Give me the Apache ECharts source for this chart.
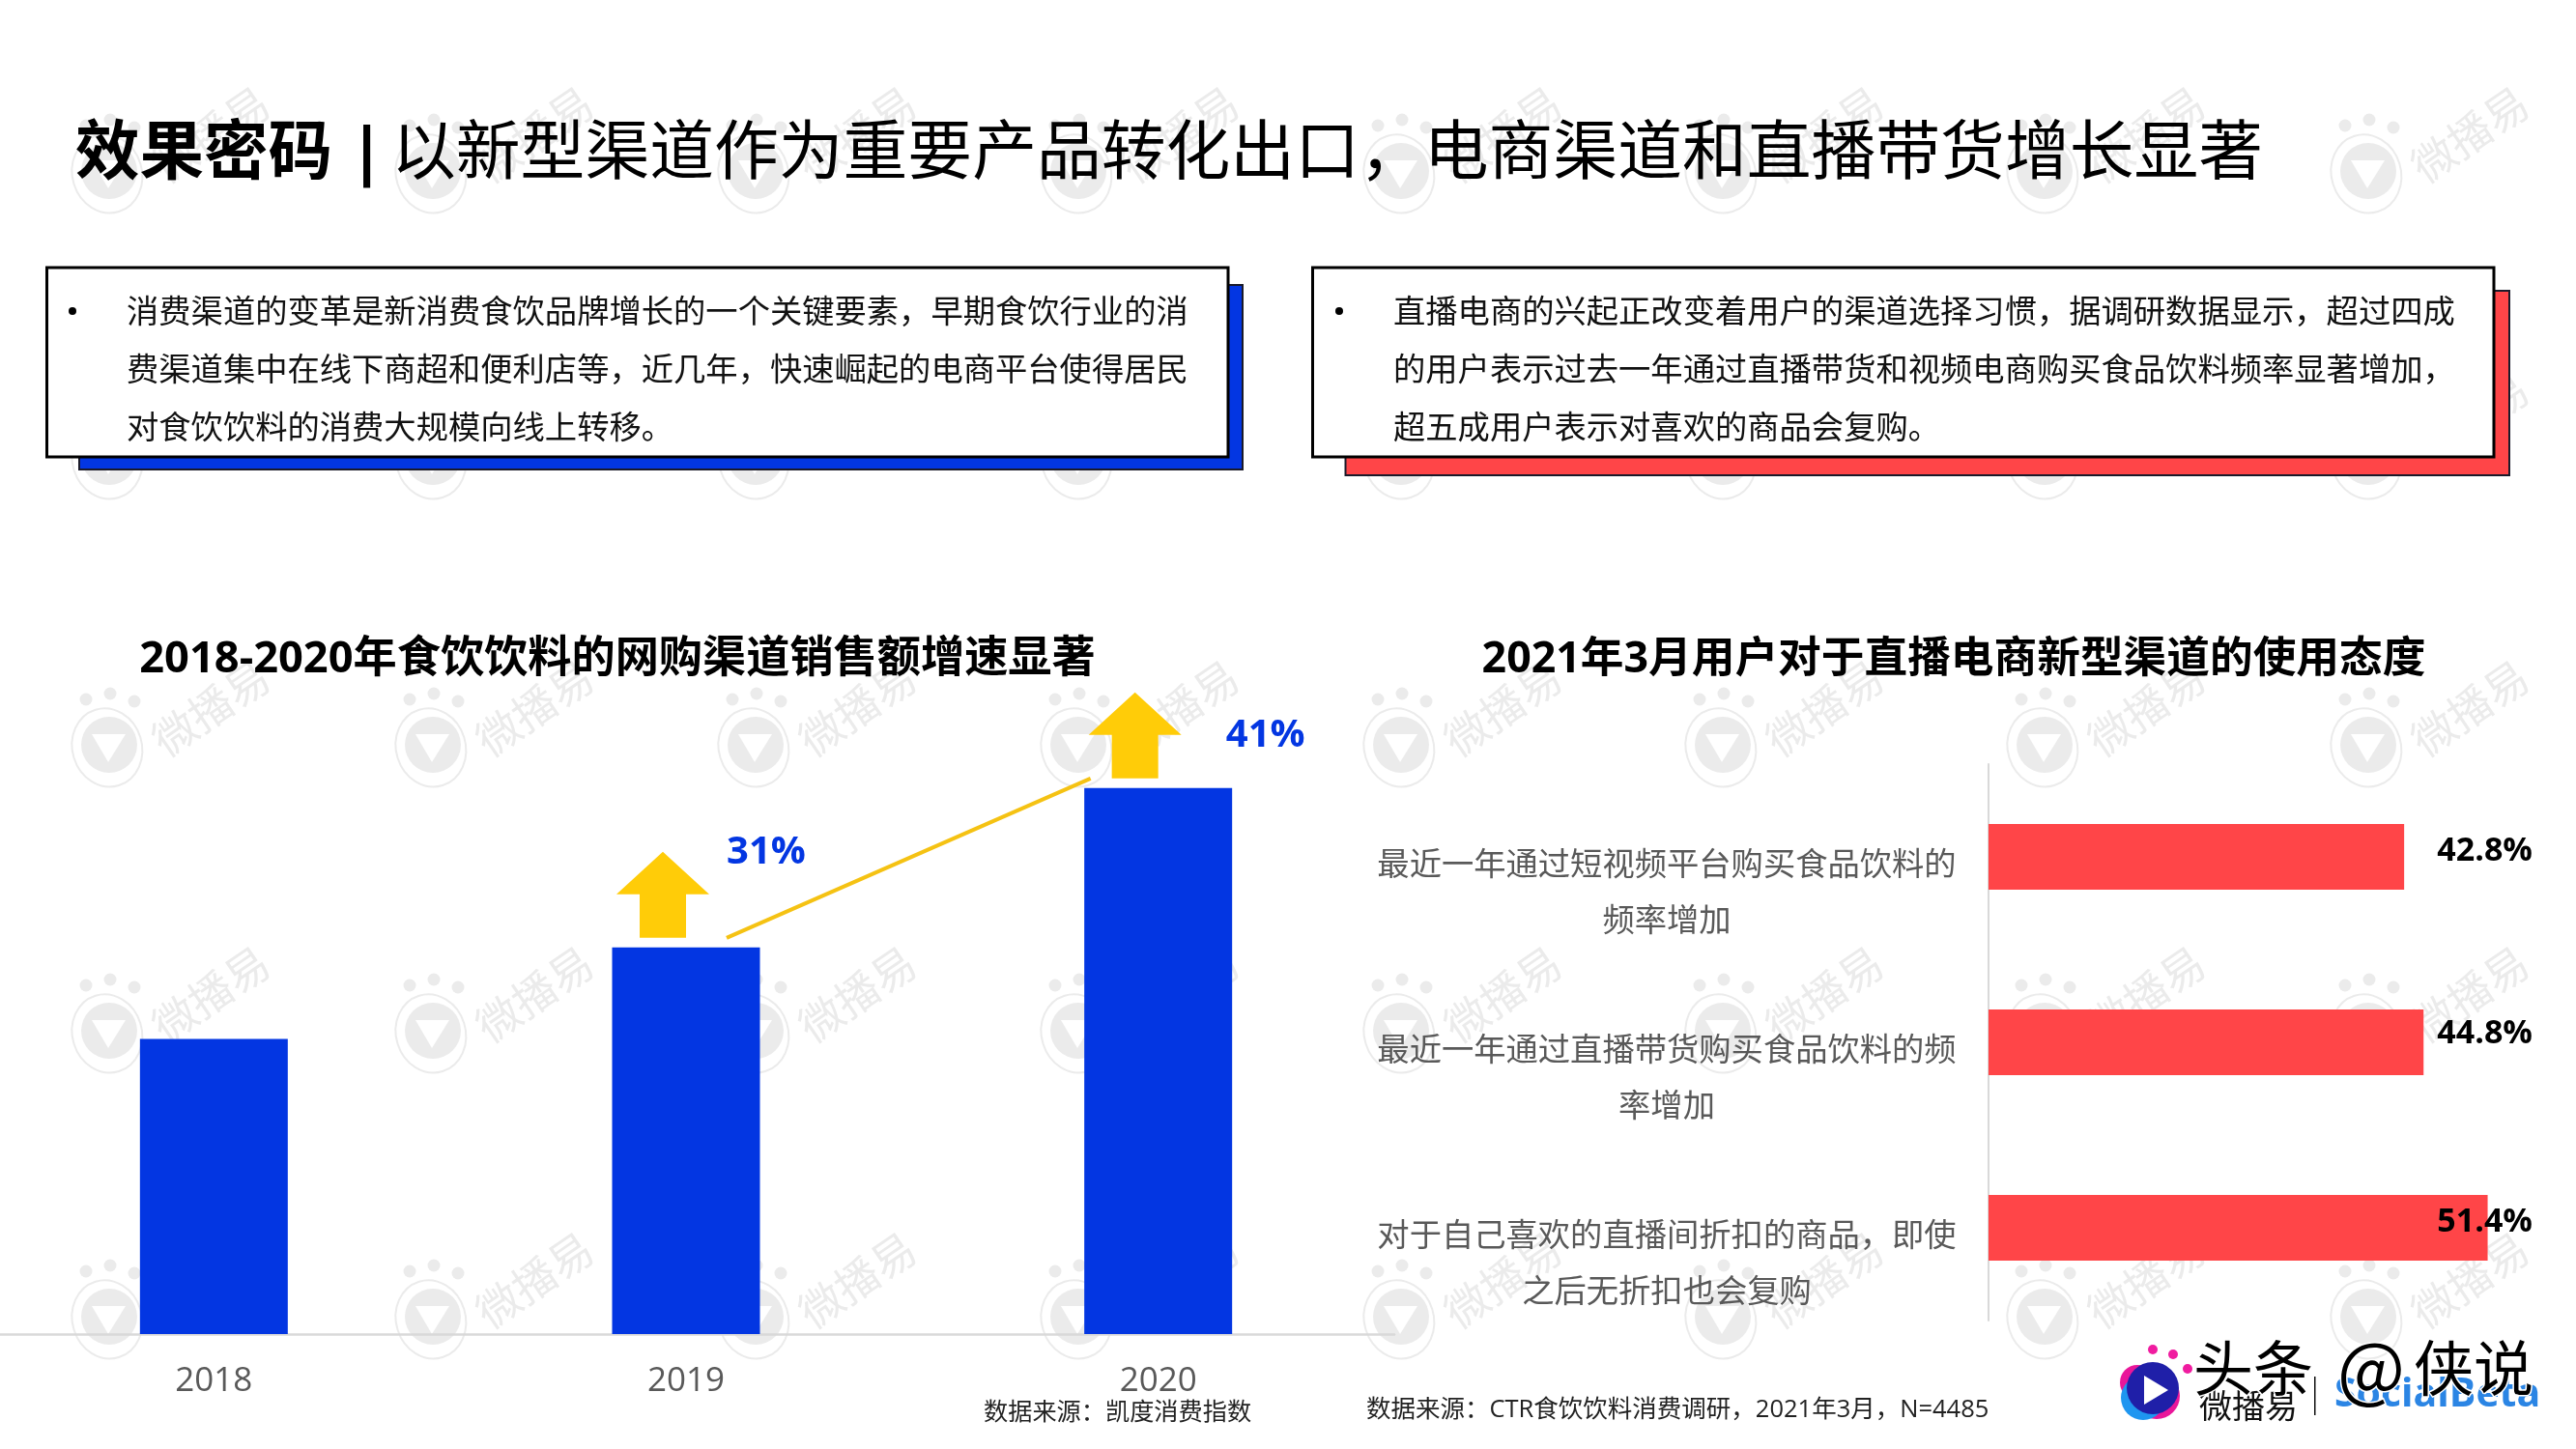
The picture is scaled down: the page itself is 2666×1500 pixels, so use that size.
<!DOCTYPE html>
<html><head><meta charset="utf-8">
<style>html,body{margin:0;padding:0;background:#fff}#c{width:2666px;height:1500px}</style>
<script src="https://cdn.jsdelivr.net/npm/echarts@6/dist/echarts.min.js"></script>
</head><body><div id="c"></div>
<script>
const FONT = '"Open Sans","Noto Sans CJK SC",sans-serif';
const CJK = '"Noto Sans CJK SC",sans-serif';

const headBold = '效果密码 |';
const headRegular = '以新型渠道作为重要产品转化出口，电商渠道和直播带货增长显著';
const leftNote = ['消费渠道的变革是新消费食饮品牌增长的一个关键要素，早期食饮行业的消','费渠道集中在线下商超和便利店等，近几年，快速崛起的电商平台使得居民','对食饮饮料的消费大规模向线上转移。'];
const rightNote = ['直播电商的兴起正改变着用户的渠道选择习惯，据调研数据显示，超过四成','的用户表示过去一年通过直播带货和视频电商购买食品饮料频率显著增加，','超五成用户表示对喜欢的商品会复购。'];

const leftTitle = '2018-2020年食饮饮料的网购渠道销售额增速显著';
const rightTitle = '2021年3月用户对于直播电商新型渠道的使用态度';
const leftSource = '数据来源：凯度消费指数';
const rightSource = '数据来源：CTR食饮饮料消费调研，2021年3月，N=4485';

const years = ['2018','2019','2020'];
const salesIndex = [100,131,185];
const growthYears = [1,2];
const growthLabels = ['31%','41%'];

const attitudes = ['最近一年通过短视频平台购买食品饮料的\n频率增加','最近一年通过直播带货购买食品饮料的频\n率增加','对于自己喜欢的直播间折扣的商品，即使\n之后无折扣也会复购'];
const attitudeValues = [42.8,44.8,51.4];

const BLUE='#0336E2', RED='#FF4548', YEL='#FFCC08';

const wmCols=[110,445,779,1113,1447,1780,2113,2448], wmRows=[177,473,771,1067,1363];
const gfx=[];
function watermark(x,y){
  const c='#ebebeb';
  gfx.push({type:'group',x:x,y:y,z:-10,silent:true,children:[
    {type:'circle',shape:{cx:3,cy:0,r:29},style:{fill:c}},
    {type:'polygon',shape:{points:[[-15,-11],[20,-11],[2,18]]},style:{fill:'#fff'}},
    {type:'ellipse',shape:{cx:0,cy:3,rx:36,ry:41},rotation:0.3,style:{fill:'none',stroke:c,lineWidth:2}},
    {type:'circle',shape:{cx:-21,cy:-47,r:6.5},style:{fill:c}},
    {type:'circle',shape:{cx:4,cy:-53,r:6.5},style:{fill:c}},
    {type:'circle',shape:{cx:29,cy:-45,r:6.5},style:{fill:c}},
    {type:'text',x:108,y:-38,rotation:0.6,style:{text:'微播易',font:'45px '+CJK,fill:c,textAlign:'center',textVerticalAlign:'middle'}}
  ]});
}
wmRows.forEach(y=>wmCols.forEach(x=>watermark(x,y)));

function txt(t,x,y,size,opt){opt=opt||{};
  return {type:'text',x:x,y:y,z:opt.z||6,silent:true,style:Object.assign({text:t,font:(opt.weight||'normal')+' '+size+'px '+FONT,fill:opt.fill||'#000',textAlign:opt.align||'left',textVerticalAlign:'middle'},opt.extra||{})};
}
gfx.push(txt(headBold,78,161,66.5,{weight:'bold'}));
gfx.push(txt(headRegular,405,161,66.8));

function noteBox(x0,y0,x1,y1,sx0,sy0,sx1,sy1,color,lines,bx,tx){
  gfx.push({type:'rect',z:4,silent:true,shape:{x:sx0,y:sy0,width:sx1-sx0,height:sy1-sy0},style:{fill:color,stroke:'#1a1a2a',lineWidth:2}});
  gfx.push({type:'rect',z:5,silent:true,shape:{x:x0,y:y0,width:x1-x0,height:y1-y0},style:{fill:'#fff',stroke:'#000',lineWidth:3}});
  gfx.push({type:'circle',z:6,silent:true,shape:{cx:bx,cy:322,r:4},style:{fill:'#000'}});
  lines.forEach((l,i)=>gfx.push(txt(l,tx,325+60*i,33.3,{fill:'#111'})));
}
noteBox(48.5,277,1271,473,82,295,1286,486,BLUE,leftNote,75,131);
noteBox(1358.5,277,2581,473,1392.5,301,2597,492,RED,rightNote,1386,1442);

gfx.push(txt(leftSource,1018,1463,25.2,{fill:'#222'}));
gfx.push(txt(rightSource,1414,1460,25.5,{fill:'#222'}));

// corner logos
gfx.push({type:'group',z:7,silent:true,children:[
  {type:'circle',shape:{cx:2212,cy:1431,r:18},style:{fill:'#E9169A'}},
  {type:'circle',shape:{cx:2232,cy:1445,r:24},style:{fill:'#E9169A'}},
  {type:'circle',shape:{cx:2218,cy:1447,r:23},style:{fill:'#1E96F0'}},
  {type:'circle',shape:{cx:2228,cy:1437,r:27},style:{fill:'#1F1FA8'}},
  {type:'polygon',shape:{points:[[2219,1424],[2244,1439],[2219,1454]]},style:{fill:'#fff'}},
  {type:'circle',shape:{cx:2228,cy:1397,r:5},style:{fill:'#F01CA0'}},
  {type:'circle',shape:{cx:2249,cy:1402,r:5},style:{fill:'#F01CA0'}},
  {type:'circle',shape:{cx:2264,cy:1417,r:5},style:{fill:'#F01CA0'}},
  {type:'text',x:2276,y:1455,style:{text:'微播易',font:'34px '+CJK,fill:'#111',textVerticalAlign:'middle'}},
  {type:'rect',shape:{x:2395,y:1425,width:1.5,height:40},style:{fill:'#111'}},
  {type:'text',x:2416,y:1444,style:{text:'SocialBeta',font:'bold 41px '+FONT,fill:'#2B85E4',textVerticalAlign:'middle'}},
  {type:'text',x:2270,y:1416,style:{text:'头条',font:'62px '+CJK,fill:'#000',stroke:'#fff',lineWidth:3,textVerticalAlign:'middle'}},
  {type:'text',x:2419,y:1416,style:{text:'@',font:'74px '+CJK,fill:'#000',stroke:'#fff',lineWidth:3,textVerticalAlign:'middle'}},
  {type:'text',x:2498,y:1416,style:{text:'侠说',font:'62px '+CJK,fill:'#000',stroke:'#fff',lineWidth:3,textVerticalAlign:'middle'}}
]});

const labelShift=[[83,-98],[111,-54]];
function renderArrow(params,api){
  const i=params.dataIndex, p=api.coord([api.value(0),api.value(1)]);
  const x=p[0]-24, y=p[1];
  const kids=[
    {type:'polygon',shape:{points:[[x-24,y-10],[x-24,y-55],[x-48,y-55],[x,y-99],[x+48,y-55],[x+24,y-55],[x+24,y-10]]},style:{fill:YEL}},
    {type:'text',x:p[0]+labelShift[i][0],y:p[1]+labelShift[i][1],style:{text:growthLabels[i],font:'bold 40px '+FONT,fill:BLUE,textAlign:'center',textVerticalAlign:'middle'}}
  ];
  return {type:'group',children:kids};
}
function renderTrend(params,api){
  const a=api.coord([api.value(0),api.value(1)]), b=api.coord([api.value(2),api.value(3)]);
  return {type:'line',shape:{x1:a[0]+42,y1:a[1]-10,x2:b[0]-70,y2:b[1]-10},style:{stroke:'#F5C213',lineWidth:4}};
}
const nudge=[-6,-9,-6];
function renderValue(params,api){
  const i=params.dataIndex, p=api.coord([api.value(0),api.value(1)]);
  const right=params.coordSys.x+params.coordSys.width-40;
  return {type:'text',x:right,y:p[1]+nudge[i],z2:10,style:{text:attitudeValues[i].toFixed(1)+'%',font:'bold 34px '+FONT,fill:'#000',textAlign:'right',textVerticalAlign:'middle'}};
}

const chart=echarts.init(document.getElementById('c'));
chart.setOption({
  animation:false,backgroundColor:'#fff',
  title:[
    {text:leftTitle,left:634,top:678,textAlign:'center',textVerticalAlign:'middle',textStyle:{fontFamily:FONT,fontWeight:'bold',fontSize:45.2,color:'#000'}},
    {text:rightTitle,left:2017,top:678,textAlign:'center',textVerticalAlign:'middle',textStyle:{fontFamily:FONT,fontWeight:'bold',fontSize:44.7,color:'#000'}}
  ],
  grid:[
    {left:-23,top:770,width:1466,height:611,outerBoundsMode:'none'},
    {left:2058,top:791,width:603,height:576,outerBoundsMode:'none'}
  ],
  xAxis:[
    {type:'category',gridIndex:0,data:years,axisTick:{show:false},axisLine:{lineStyle:{color:'#D9D9D9',width:2.5}},axisLabel:{color:'#595959',fontSize:35,fontFamily:FONT,margin:32}},
    {type:'value',gridIndex:1,min:0,max:60,show:false}
  ],
  yAxis:[
    {type:'value',gridIndex:0,min:0,max:200,show:false},
    {type:'category',gridIndex:1,inverse:true,data:attitudes,axisTick:{show:false},axisLine:{lineStyle:{color:'#D9D9D9',width:2}},
     axisLabel:{align:'center',margin:333,interval:0,
       formatter:v=>'{s| }\n'+v.split('\n').map(l=>'{a|'+l+'}').join('\n'),
       rich:{s:{lineHeight:77,fontSize:10},a:{color:'#595959',fontSize:33.3,fontFamily:FONT,lineHeight:58,align:'center'}}}}
  ],
  graphic:{elements:gfx},
  series:[
    {type:'bar',xAxisIndex:0,yAxisIndex:0,data:salesIndex,barWidth:153,itemStyle:{color:BLUE},silent:true},
    {type:'custom',xAxisIndex:0,yAxisIndex:0,renderItem:renderTrend,data:[[1,salesIndex[1],2,salesIndex[2]]],silent:true,z:3},
    {type:'custom',xAxisIndex:0,yAxisIndex:0,renderItem:renderArrow,data:growthYears.map(i=>[i,salesIndex[i]]),silent:true,z:4},
    {type:'bar',xAxisIndex:1,yAxisIndex:1,data:attitudeValues,barWidth:68,itemStyle:{color:RED},silent:true},
    {type:'custom',xAxisIndex:1,yAxisIndex:1,renderItem:renderValue,encode:{x:0,y:1},data:attitudeValues.map((v,i)=>[v,i]),silent:true,z:5}
  ]
});
</script></body></html>
